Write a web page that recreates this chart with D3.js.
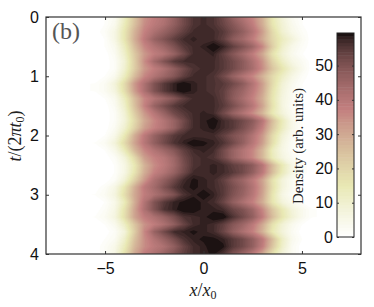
<!DOCTYPE html>
<html>
<head>
<meta charset="utf-8">
<script src="https://cdn.jsdelivr.net/npm/d3@7"></script>
<style>
body { margin: 0; background: #fff; }
svg { display: block; }
.tick text { font-family: "Liberation Sans", Arial, sans-serif; font-size: 16px; fill: #111; }
.lbl { font-family: "Liberation Serif", serif; fill: #222; }
</style>
</head>
<body>
<script>
var xTicks = [-5, 0, 5];
var tTicks = [0, 1, 2, 3, 4];
var barTicks = [0, 10, 20, 30, 40, 50];
var densityMax = 59.5;

// x positions of the columns, t positions of the rows
var xs = [-5.5,-5,-4.5,-4,-3.5,-3,-2.5,-2,-1.5,-1,-0.5,0,0.5,1,1.5,2,2.5,3,3.5,4,4.5,5,5.5];
var ts = d3.range(33).map(function(i) { return i / 8; });

// density, one row per t
var density = [
[0,1,3,12,24,34,38,41,46,52,56,57,56,52,46,41,36,28,15,8,3,1,0],
[0,1,4,14,25,35,39,42,47,52,56,57,56,53,49,44,38,29,16,9,4,1,0],
[0,2,6,16,28,37,42,46,50,54,57,57,57,55,51,47,41,32,19,10,5,2,0],
[0,1,6,16,29,39,46,50,54,57,58,57,57,54,48,44,38,30,20,13,8,3,0],
[0,1,4,13,26,36,41,45,50,55,57,58,60,58,54,50,45,36,22,11,5,2,0],
[0,0,3,11,23,33,38,41,46,52,57,57,58,54,49,44,38,30,17,9,4,1,0],
[0,0,2,9,22,35,44,50,55,57,57,57,57,55,52,48,42,34,21,12,6,3,0],
[0,0,2,10,22,33,38,42,47,52,56,57,57,55,52,48,43,35,24,16,9,4,0],
[0,1,4,13,26,36,41,45,49,54,57,57,56,52,46,41,36,28,19,12,6,2,0],
[1,3,8,19,33,42,50,55,58,60,58,57,56,55,52,48,41,32,19,9,4,1,0],
[1,3,7,18,32,42,50,55,58,60,58,57,56,54,49,45,39,31,17,8,3,1,0],
[0,1,4,13,26,36,41,45,49,54,57,57,57,54,48,43,37,29,16,7,3,0,0],
[0,0,3,11,25,37,46,51,55,57,57,57,57,55,51,46,40,31,17,7,2,0,0],
[0,0,2,9,22,33,40,46,52,55,57,58,57,52,46,41,35,27,15,8,3,1,0],
[0,0,2,8,19,30,36,41,46,52,57,58,60,57,55,52,48,40,26,14,5,1,0],
[0,0,3,10,21,32,37,41,46,53,57,58,59,57,55,51,46,37,24,13,5,1,0],
[0,1,5,15,29,39,46,51,55,57,57,57,57,54,50,47,41,33,19,9,3,0,0],
[1,3,8,19,31,40,47,52,56,58,60,59,58,56,52,47,40,32,18,7,2,0,0],
[0,1,5,14,27,36,41,45,49,54,57,58,57,52,46,41,36,27,13,6,2,0,0],
[0,0,2,8,19,32,37,40,45,52,56,57,56,52,46,41,36,27,14,7,3,0,0],
[0,0,1,6,15,28,35,39,44,51,56,57,58,57,54,52,48,40,27,15,6,2,0],
[0,0,1,6,16,29,37,41,46,52,57,57,58,57,55,52,47,39,26,14,6,2,0],
[0,0,2,9,21,33,42,47,52,57,59,58,57,54,49,45,39,31,17,8,3,0,0],
[0,2,6,16,29,39,44,50,55,58,59,58,57,55,51,47,41,32,18,8,3,0,0],
[1,3,7,18,30,38,42,46,50,56,58,60,58,55,50,46,40,31,16,6,2,0,0],
[0,1,5,14,29,41,50,55,58,59,60,58,57,53,47,42,37,29,16,8,4,1,0],
[0,2,6,17,31,42,50,56,58,60,60,58,58,57,53,50,45,36,24,15,8,4,1],
[1,3,7,18,31,38,42,46,51,56,57,58,60,60,56,52,47,38,26,16,9,4,1],
[0,1,4,12,24,34,38,42,47,53,57,58,57,54,49,45,39,30,17,9,4,1,0],
[0,0,2,8,22,36,46,52,57,58,59,58,57,53,47,42,37,28,15,8,3,0,0],
[0,1,3,11,25,35,41,46,51,56,58,59,59,58,55,52,47,39,26,12,4,1,0],
[0,2,5,14,27,35,39,42,47,53,57,58,60,59,55,52,47,38,24,11,3,0,0],
[0,2,6,17,30,38,42,46,50,54,57,58,59,56,50,45,39,30,17,8,3,0,0]
];

var width = 374, height = 307;
var margin = {left: 46, right: 13, top: 17, bottom: 53};

var x = d3.scaleLinear().domain([-8, 8]).range([margin.left, width - margin.right]);
var y = d3.scaleLinear().domain([0, 4]).range([margin.top, height - margin.bottom]);
var barY = d3.scaleLinear().domain([0, densityMax]).range([237, 33]);

// reversed matlab "pink" map, 64 steps
function pink(v) {
  var s = 1 - v;
  var hr = Math.min(1, s * 8 / 3);
  var hg = Math.max(0, Math.min(1, (s - 3 / 8) * 8 / 3));
  var hb = Math.max(0, (s - 3 / 4) * 4);
  function c(h) { return Math.round(255 * Math.sqrt((2 * s + h) / 3)); }
  return "rgb(" + c(hr) + "," + c(hg) + "," + c(hb) + ")";
}
var levels = 64;
var step = densityMax / levels;
var thresholds = d3.range(levels).map(function(k) { return k * step; });

var svg = d3.select("body").append("svg").attr("width", width).attr("height", height);

svg.append("clipPath").attr("id", "plotclip").append("rect")
  .attr("x", x(-8)).attr("y", y(0)).attr("width", x(8) - x(-8)).attr("height", y(4) - y(0));

var flat = [];
density.forEach(function(row) { row.forEach(function(d) { flat.push(d); }); });

var contours = d3.contours().size([xs.length, ts.length]).thresholds(thresholds)(flat);

var project = d3.geoTransform({
  point: function(cx, cy) {
    this.stream.point(x(xs[0] + (cx - 0.5) * 0.5), y((cy - 0.5) / 8));
  }
});
var path = d3.geoPath(project);

svg.append("g").attr("clip-path", "url(#plotclip)")
  .selectAll("path")
  .data(contours.slice(1))
  .enter().append("path")
  .attr("d", path)
  .attr("fill", function(d) { return pink((d.value + step / 2) / densityMax); });

// frame and ticks
svg.append("rect")
  .attr("x", x(-8)).attr("y", y(0)).attr("width", x(8) - x(-8)).attr("height", y(4) - y(0))
  .attr("fill", "none").attr("stroke", "#333").attr("stroke-width", 1.2);

function tidy(g) {
  g.select(".domain").remove();
  g.selectAll("line").attr("stroke", "#333");
}
svg.append("g").attr("transform", "translate(0," + y(4) + ")")
  .call(d3.axisBottom(x).tickValues(xTicks).tickSizeInner(-3).tickSizeOuter(0).tickPadding(9).tickFormat(function(d) { return d < 0 ? "\u2212" + (-d) : d; }))
  .call(tidy);
svg.append("g").attr("transform", "translate(0," + y(0) + ")")
  .call(d3.axisTop(x).tickValues(xTicks).tickSizeInner(-3).tickSizeOuter(0).tickFormat(""))
  .call(tidy);
svg.append("g").attr("transform", "translate(" + x(-8) + ",0)")
  .call(d3.axisLeft(y).tickValues(tTicks).tickSizeInner(-3).tickSizeOuter(0).tickPadding(7).tickFormat(d3.format("d")))
  .call(tidy);
svg.append("g").attr("transform", "translate(" + x(8) + ",0)")
  .call(d3.axisRight(y).tickValues(tTicks).tickSizeInner(-3).tickSizeOuter(0).tickFormat(""))
  .call(tidy);

// colour bar
var barX0 = 337, barX1 = 354;
svg.append("g").selectAll("rect")
  .data(thresholds)
  .enter().append("rect")
  .attr("x", barX0)
  .attr("width", barX1 - barX0)
  .attr("y", function(d) { return barY(d + step); })
  .attr("height", function(d) { return barY(d) - barY(d + step) + 0.5; })
  .attr("fill", function(d) { return pink((d + step / 2) / densityMax); });
svg.append("rect")
  .attr("x", barX0).attr("y", barY(densityMax)).attr("width", barX1 - barX0).attr("height", barY(0) - barY(densityMax))
  .attr("fill", "none").attr("stroke", "#222").attr("stroke-width", 1);
svg.append("g").attr("transform", "translate(" + barX0 + ",0)")
  .call(d3.axisLeft(barY).tickValues(barTicks).tickSizeInner(-2).tickSizeOuter(0).tickPadding(4).tickFormat(d3.format("d")))
  .call(tidy);
svg.append("g").attr("transform", "translate(" + barX1 + ",0)")
  .call(d3.axisRight(barY).tickValues(barTicks).tickSizeInner(-2).tickSizeOuter(0).tickFormat(""))
  .call(tidy);

// labels
svg.append("text").attr("class", "lbl")
  .attr("x", 52).attr("y", 39)
  .style("font-size", "24px").style("fill", "#555")
  .text("(b)");

svg.append("text").attr("class", "lbl")
  .attr("transform", "translate(303,146) rotate(-90)")
  .style("text-anchor", "middle").style("font-size", "15px")
  .text("Density (arb. units)");

var xLabel = svg.append("text").attr("class", "lbl")
  .attr("x", 203).attr("y", 296)
  .style("text-anchor", "middle").style("font-size", "18px");
xLabel.append("tspan").style("font-style", "italic").text("x");
xLabel.append("tspan").text("/");
xLabel.append("tspan").style("font-style", "italic").text("x");
xLabel.append("tspan").attr("dy", 3).style("font-size", "12px").text("0");

var tLabel = svg.append("text").attr("class", "lbl")
  .attr("transform", "translate(21,136) rotate(-90)")
  .style("text-anchor", "middle").style("font-size", "18px");
tLabel.append("tspan").style("font-style", "italic").text("t");
tLabel.append("tspan").text("/(2");
tLabel.append("tspan").style("font-style", "italic").text("\u03c0t");
tLabel.append("tspan").attr("dy", 3).style("font-size", "12px").text("0");
tLabel.append("tspan").attr("dy", -3).text(")");
</script>
</body>
</html>
